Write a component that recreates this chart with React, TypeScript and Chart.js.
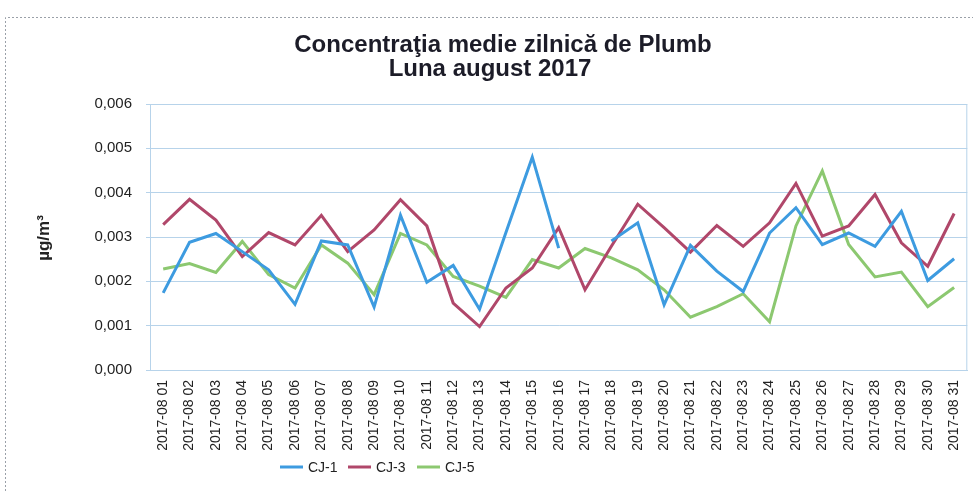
import React, { useEffect, useRef } from "react";
import { Chart, registerables } from "chart.js";

Chart.register(...registerables);

const days: string[] = [
  "01","02","03","04","05","06","07","08","09","10","11","12","13","14","15","16",
  "17","18","19","20","21","22","23","24","25","26","27","28","29","30","31",
];
const categories: string[] = days.map((d) => "2017-08 " + d);

const cj1: (number | null)[] = [
  0.00174, 0.00288, 0.00308, 0.00267, 0.00226, 0.00148, 0.00291, 0.00282, 0.00142, 0.00349,
  0.00198, 0.00236, 0.00137, 0.0031, 0.0048, 0.00275, null, 0.00291, 0.00332, 0.00147,
  0.00281, 0.00223, 0.00177, 0.00309, 0.00366, 0.00283, 0.00309, 0.00279, 0.00358, 0.00202, 0.00251,
];
const cj3: number[] = [
  0.00328, 0.00385, 0.00338, 0.00256, 0.0031, 0.00282, 0.00349, 0.00267, 0.00316, 0.00384,
  0.00325, 0.00151, 0.00098, 0.00185, 0.0023, 0.00321, 0.00181, 0.00279, 0.00374, 0.00321,
  0.00266, 0.00326, 0.00279, 0.00332, 0.00421, 0.00302, 0.00325, 0.00396, 0.00287, 0.00234, 0.00353,
];
const cj5: number[] = [
  0.00228, 0.0024, 0.0022, 0.0029, 0.00215, 0.00185, 0.00282, 0.00241, 0.0017, 0.00308,
  0.00282, 0.00211, 0.00189, 0.00164, 0.00249, 0.0023, 0.00274, 0.00253, 0.00226, 0.00181,
  0.00119, 0.00143, 0.00172, 0.00109, 0.00325, 0.00449, 0.00283, 0.0021, 0.00221, 0.00143, 0.00186,
];
const seriesNames: string[] = ["CJ-1", "CJ-3", "CJ-5"];
const seriesColors: string[] = ["#3d9be0", "#b0476a", "#8cc870"];
const titleLines: string[] = ["Concentraţia medie zilnică de Plumb", "Luna august 2017"];
const yTitle = "µg/m³";

const GRID = "#b7d3ea";
const TEXT = "#222";
const FONT = "Arial, 'Liberation Sans', sans-serif";

const overlay = {
  id: "overlay",
  afterDraw(chart: any) {
    const ctx = chart.ctx;
    const a = chart.chartArea;
    ctx.save();
    // outer chart frame (scan)
    ctx.strokeStyle = "#9aa0a8";
    ctx.lineWidth = 1;
    ctx.setLineDash([2, 2]);
    ctx.beginPath();
    ctx.moveTo(5.5, 491);
    ctx.lineTo(5.5, 17.5);
    ctx.lineTo(973, 17.5);
    ctx.stroke();
    ctx.setLineDash([]);
    // plot border
    ctx.strokeStyle = GRID;
    ctx.strokeRect(a.left + 0.5, a.top + 0.5, a.right - a.left - 1, a.bottom - a.top);
    // title
    ctx.fillStyle = "#1c1c28";
    ctx.font = "bold 24px " + FONT;
    ctx.textAlign = "center";
    ctx.textBaseline = "middle";
    ctx.fillText(titleLines[0], 503, 45);
    ctx.fillText(titleLines[1], 490, 69);
    // y title
    ctx.save();
    ctx.translate(44, 238);
    ctx.rotate(-Math.PI / 2);
    ctx.font = "bold 17px " + FONT;
    ctx.fillStyle = TEXT;
    ctx.fillText(yTitle, 0, 0);
    ctx.restore();
    // legend
    const legendX = [280, 348, 417];
    ctx.font = "14px " + FONT;
    ctx.textAlign = "left";
    for (let i = 0; i < seriesNames.length; i++) {
      ctx.strokeStyle = seriesColors[i];
      ctx.lineWidth = 3;
      ctx.beginPath();
      ctx.moveTo(legendX[i], 467);
      ctx.lineTo(legendX[i] + 23, 467);
      ctx.stroke();
      ctx.fillStyle = TEXT;
      ctx.fillText(seriesNames[i], legendX[i] + 28, 468);
    }
    ctx.restore();
  },
};

export default function App() {
  const ref = useRef<HTMLCanvasElement | null>(null);
  useEffect(() => {
    document.body.style.margin = "0";
    const datasets = [cj1, cj3, cj5].map((d, i) => ({
      label: seriesNames[i],
      data: d,
      borderColor: seriesColors[i],
      backgroundColor: seriesColors[i],
      borderWidth: 3,
      pointRadius: 0,
      tension: 0,
      spanGaps: false,
    }));
    const chart = new Chart(ref.current as HTMLCanvasElement, {
      type: "line",
      data: { labels: categories, datasets },
      options: {
        animation: false,
        responsive: false,
        layout: { padding: { top: 104, right: 5, left: 0, bottom: 0 } },
        plugins: { legend: { display: false }, title: { display: false }, tooltip: { enabled: false } },
        scales: {
          x: {
            offset: true,
            grid: { display: false, drawTicks: true },
            border: { color: GRID },
            ticks: {
              autoSkip: false,
              maxRotation: 90,
              minRotation: 90,
              color: TEXT,
              padding: 2,
              font: { family: FONT, size: 14 },
            },
            afterFit: (s: any) => {
              s.height = 121;
            },
          },
          y: {
            min: 0,
            max: 0.006,
            ticks: {
              stepSize: 0.001,
              color: TEXT,
              padding: 14,
              font: { family: FONT, size: 15 },
              callback: (v: any) => Number(v).toFixed(3).replace(".", ","),
            },
            grid: { color: GRID, drawTicks: true, tickLength: 4 },
            border: { color: GRID },
            afterFit: (s: any) => {
              s.width = 150;
            },
          },
        },
      },
      plugins: [overlay],
    });
    return () => chart.destroy();
  }, []);
  return (
    <div style={{ width: 973, height: 491, background: "#fff" }}>
      <canvas ref={ref} width={973} height={491} style={{ display: "block" }} />
    </div>
  );
}
